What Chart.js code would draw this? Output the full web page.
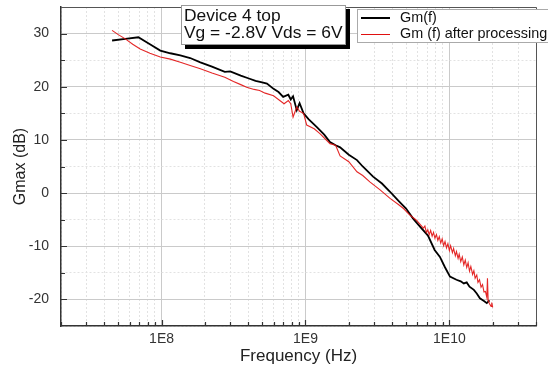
<!DOCTYPE html>
<html>
<head>
<meta charset="utf-8">
<script src="https://cdn.jsdelivr.net/npm/chart.js@4.4.1/dist/chart.umd.min.js"></script>
<style>
  body { margin: 0; background: #fff; font-family: "Liberation Sans", Arial, sans-serif; }
  #wrap { position: relative; width: 548px; height: 367px; overflow: hidden; }
  #note {
    position: absolute; left: 181px; top: 5px; width: 161px; height: 37px;
    background: #fff; border: 1px solid #999; box-shadow: 4px 4px 0 #000;
    font-size: 17.4px; line-height: 17px; color: #111; padding-left: 2px; padding-top: 1px;
    box-sizing: content-box; white-space: nowrap;
  }
  #legend {
    position: absolute; left: 357px; top: 9px; width: 200px; height: 32px;
    background: #fff; border: 1px solid #aaa; font-size: 14.4px; color: #111;
  }
  .row { position: absolute; left: 3px; height: 15px; line-height: 15px; white-space: nowrap; }
  .row span.ln { display: inline-block; width: 29px; vertical-align: middle; margin-right: 10px; }
</style>
</head>
<body>
<div id="wrap">
  <canvas id="chart" width="548" height="367"></canvas>
  <div id="note">Device 4 top<br>Vg = -2.8V Vds = 6V</div>
  <div id="legend">
    <div class="row" style="top:0px"><span class="ln" style="border-top:2px solid #000"></span>Gm(f)</div>
    <div class="row" style="top:16px"><span class="ln" style="border-top:1px solid #e01010"></span>Gm (f) after processing</div>
  </div>
</div>
<script>
// valores
const gmFreq = [4.53e7, 5.6e7, 6.9e7, 8.3e7, 9.8e7, 1.15e8, 1.35e8, 1.58e8, 1.86e8, 2.24e8,
  2.75e8, 3.0e8, 3.55e8, 4.0e8, 4.5e8, 5.0e8, 5.4e8, 6.0e8, 6.5e8, 7.0e8,
  7.6e8, 7.9e8, 8.2e8, 8.7e8, 9.1e8, 9.7e8, 1.05e9, 1.2e9, 1.35e9, 1.48e9,
  1.62e9, 1.74e9, 2.0e9, 2.28e9, 2.5e9, 2.95e9, 3.4e9, 3.87e9, 4.45e9, 5.0e9,
  5.6e9, 6.25e9, 7.1e9, 7.9e9, 8.6e9, 9.3e9, 1.01e10, 1.12e10, 1.2e10, 1.26e10,
  1.32e10, 1.38e10, 1.48e10, 1.55e10, 1.63e10, 1.74e10, 1.82e10, 1.9e10];
const gmValues = [28.7, 29.0, 29.3, 28.0, 26.8, 26.3, 25.9, 25.4, 24.6, 23.8,
  22.8, 22.9, 22.1, 21.6, 21.1, 20.8, 20.6, 19.6, 19.0, 18.1,
  18.5, 17.6, 18.2, 15.6, 16.9, 15.0, 13.9, 12.4, 11.0, 9.6,
  9.0, 8.6, 7.2, 6.2, 5.0, 3.1, 1.8, 0.25, -1.5, -2.9,
  -4.8, -6.3, -8.0, -10.7, -12.0, -13.9, -15.7, -16.3, -16.6, -17.0,
  -16.8, -17.6, -18.2, -18.9, -19.8, -20.3, -20.7, -20.2];

const procFreq = [4.53e7, 5.0e7, 5.6e7, 6.3e7, 7.1e7, 8.3e7, 9.8e7, 1.15e8, 1.35e8, 1.58e8,
  1.86e8, 2.24e8, 2.75e8, 3.16e8, 3.55e8, 3.9e8, 4.4e8, 4.8e8, 5.25e8, 6.0e8,
  7.1e8, 7.6e8, 7.9e8, 8.2e8, 8.7e8, 9.1e8, 9.7e8, 1.02e9, 1.15e9, 1.26e9,
  1.48e9, 1.62e9, 1.74e9, 2.0e9, 2.28e9, 2.5e9, 2.8e9, 3.3e9, 3.87e9, 4.4e9,
  4.8e9, 5.25e9, 5.9e9, 6.6e9, 6.76e9, 6.92e9, 7.08e9, 7.24e9, 7.41e9, 7.59e9,
  7.76e9, 7.94e9, 8.13e9, 8.32e9, 8.51e9, 8.71e9, 8.91e9, 9.12e9, 9.33e9, 9.55e9,
  9.77e9, 1.0e10, 1.02e10, 1.05e10, 1.07e10, 1.1e10, 1.12e10, 1.15e10, 1.17e10, 1.2e10,
  1.23e10, 1.26e10, 1.29e10, 1.32e10, 1.35e10, 1.38e10, 1.41e10, 1.45e10, 1.48e10, 1.51e10,
  1.55e10, 1.58e10, 1.62e10, 1.66e10, 1.7e10, 1.74e10, 1.78e10, 1.82e10, 1.84e10, 1.86e10,
  1.9e10, 1.95e10, 1.97e10, 2.0e10];
const procValues = [30.6, 29.8, 29.0, 28.0, 27.1, 26.3, 25.6, 25.2, 24.6, 24.0,
  23.4, 22.6, 21.8, 21.0, 20.4, 19.9, 19.5, 19.3, 18.8, 18.3,
  16.8, 17.4, 16.8, 14.3, 16.2, 15.4, 15.0, 12.8, 12.1, 11.2,
  9.3, 9.0, 7.0, 5.9, 4.0, 3.3, 2.1, 0.6, -1.0, -2.1,
  -2.9, -4.0, -5.1, -6.6, -6.2, -7.4, -6.9, -7.8, -7.0, -8.1,
  -7.4, -8.5, -7.8, -8.9, -8.2, -9.4, -8.6, -9.9, -9.1, -10.3,
  -9.5, -10.8, -9.9, -11.2, -10.4, -11.8, -11.0, -12.3, -11.5, -12.9,
  -12.0, -13.5, -12.6, -14.0, -13.1, -14.7, -13.8, -15.3, -14.6, -16.0,
  -15.4, -16.8, -16.3, -17.7, -17.2, -18.6, -18.5, -19.6, -16.0, -20.2,
  -20.8, -21.3, -20.6, -21.5];

// marcas do eixo x: 1..9 em cada década
const xTickValues = [];
for (let e = 7; e <= 10; e++) {
  for (let m = 1; m <= 9; m++) {
    const v = m * Math.pow(10, e);
    if (v >= 2e7 && v <= 4e10) xTickValues.push(v);
  }
}
const isDecade = v => Math.abs(Math.log10(v) - Math.round(Math.log10(v))) < 1e-6;

// moldura superior/direita e marcas internas, como no Origin
const framePlugin = {
  id: 'frame',
  afterDraw(chart) {
    const { ctx, chartArea: a, scales } = chart;
    ctx.save();
    ctx.strokeStyle = '#555';
    ctx.lineWidth = 1;
    ctx.beginPath();
    ctx.moveTo(a.left, a.top + 0.5); ctx.lineTo(a.right + 0.5, a.top + 0.5);
    ctx.lineTo(a.right + 0.5, a.bottom);
    ctx.stroke();
    ctx.strokeStyle = '#333';
    ctx.lineWidth = 1.2;
    ctx.beginPath();
    xTickValues.forEach(v => {
      const px = Math.round(scales.x.getPixelForValue(v)) + 0.5;
      const len = isDecade(v) ? 6 : 4;
      ctx.moveTo(px, a.bottom); ctx.lineTo(px, a.bottom - len);
    });
    for (let v = -20; v <= 30; v += 5) {
      const py = Math.round(scales.y.getPixelForValue(v)) + 0.5;
      const len = v % 10 === 0 ? 6 : 4;
      ctx.moveTo(a.left, py); ctx.lineTo(a.left + len, py);
    }
    ctx.stroke();
    ctx.restore();
  }
};

const ctx = document.getElementById('chart').getContext('2d');
new Chart(ctx, {
  type: 'line',
  data: {
    datasets: [
      {
        label: 'Gm (f) after processing',
        data: procFreq.map((f, i) => ({ x: f, y: procValues[i] })),
        borderColor: 'rgba(225, 15, 15, 0.9)',
        borderWidth: 1.1,
        pointRadius: 0,
        tension: 0,
        order: 1
      },
      {
        label: 'Gm(f)',
        data: gmFreq.map((f, i) => ({ x: f, y: gmValues[i] })),
        borderColor: '#000',
        borderWidth: 1.8,
        pointRadius: 0,
        tension: 0,
        order: 2
      }
    ]
  },
  options: {
    responsive: false,
    animation: false,
    devicePixelRatio: 1,
    layout: { padding: { top: 7, right: 12, left: 0, bottom: 0 } },
    plugins: { legend: { display: false }, tooltip: { enabled: false } },
    scales: {
      x: {
        type: 'logarithmic',
        min: 2e7,
        max: 4e10,
        afterBuildTicks: scale => { scale.ticks = xTickValues.map(v => ({ value: v })); },
        afterFit: scale => { scale.height = 41; scale.paddingLeft = 0; scale.paddingRight = 0; },
        ticks: {
          autoSkip: false,
          maxRotation: 0,
          padding: 5,
          color: '#333',
          font: { family: 'Liberation Sans', size: 14 },
          callback: v => isDecade(v) ? '1E' + Math.round(Math.log10(v)) : ''
        },
        grid: {
          drawTicks: false,
          color: c => isDecade(c.tick.value) ? '#cacaca' : '#e2e2e2',
          lineWidth: 1
        },
        border: {
          color: '#333',
          width: 1.5,
          dash: c => (c.type === 'tick' && !isDecade(c.tick.value)) ? [2, 2] : []
        },
        title: {
          display: true,
          text: 'Frequency (Hz)',
          color: '#222',
          font: { family: 'Liberation Sans', size: 17 },
          padding: { top: 0, bottom: 0 }
        }
      },
      y: {
        min: -25,
        max: 35,
        afterFit: scale => { scale.width = 61; scale.paddingTop = 0; scale.paddingBottom = 0; },
        ticks: {
          stepSize: 5,
          padding: 12,
          color: '#333',
          font: { family: 'Liberation Sans', size: 14 },
          callback: v => v % 10 === 0 ? v : ''
        },
        grid: {
          drawTicks: false,
          color: c => c.tick.value % 10 === 0 ? '#cacaca' : '#e2e2e2',
          lineWidth: 1
        },
        border: {
          color: '#333',
          width: 1.5,
          dash: c => (c.type === 'tick' && c.tick.value % 10 !== 0) ? [2, 2] : []
        },
        title: {
          display: true,
          text: 'Gmax (dB)',
          color: '#222',
          font: { family: 'Liberation Sans', size: 16 },
          padding: { top: 11, bottom: 0 }
        }
      }
    }
  },
  plugins: [framePlugin]
});
</script>
</body>
</html>
